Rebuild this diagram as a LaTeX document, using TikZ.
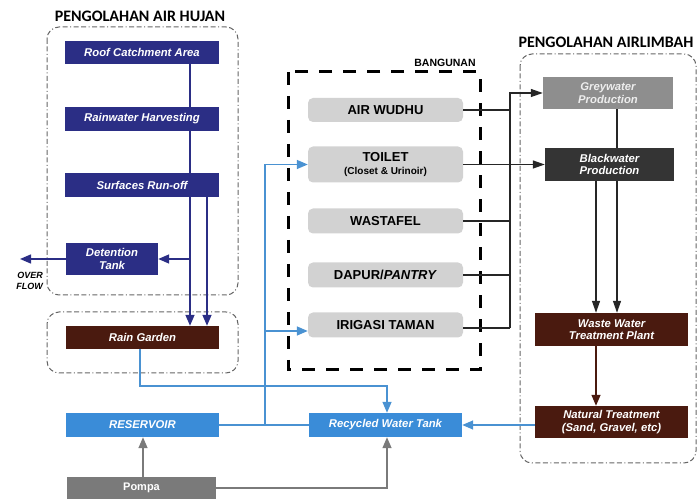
\documentclass[tikz,border=0pt]{standalone}
\usepackage{fontspec}
\setmainfont{Liberation Sans}
\newfontfamily\titlefont{Carlito}
\usetikzlibrary{arrows.meta}
\definecolor{navy}{HTML}{2B2E85}
\definecolor{brownbox}{HTML}{4A1A0F}
\definecolor{bluebox}{HTML}{3A8CD8}
\definecolor{blueline}{HTML}{4A92D2}
\definecolor{pompagrey}{HTML}{7A7A7A}
\definecolor{greyw}{HTML}{8E8E8E}
\definecolor{blackw}{HTML}{343434}
\definecolor{lightbox}{HTML}{D2D2D2}
\definecolor{groupline}{HTML}{666666}
\tikzset{
  cbox/.style={draw=none, inner sep=0pt, text=white, font=\bfseries\itshape\fontsize{11.3}{12.5}\selectfont, align=center},
  navybox/.style={cbox, fill=navy},
  brownb/.style={cbox, fill=brownbox},
  blueb/.style={cbox, fill=bluebox},
  gbox/.style={draw=none, fill=lightbox, rounded corners=5pt, minimum width=155pt, inner sep=0pt, font=\bfseries\fontsize{13}{14}\selectfont, align=center},
  grp/.style={draw=groupline, line width=1pt, rounded corners=12pt, dash pattern=on 5pt off 2.5pt on 5pt off 2.5pt on 1pt off 2.5pt},
  navyln/.style={draw=navy, line width=1.5pt},
  navyarr/.style={navyln, -{Triangle[length=11pt,width=9pt]}},
  blkln/.style={draw=black!85, line width=1.3pt},
  blkarr/.style={blkln, -{Triangle[length=12pt,width=8pt]}},
  blueln/.style={draw=blueline, line width=1.4pt},
  bluearr/.style={blueln, -{Triangle[length=11pt,width=9pt]}},
  greyarr/.style={draw=pompagrey, line width=1.4pt, -{Triangle[length=11pt,width=9pt]}},
  brownarr/.style={draw=brownbox, line width=1.4pt, -{Triangle[length=11pt,width=9pt]}},
  ttl/.style={font=\titlefont\bfseries\fontsize{16}{17}\selectfont, inner sep=0pt}
}
\begin{document}
\begin{tikzpicture}[x=1pt,y=-1pt]
\useasboundingbox (0,0) rectangle (699,502);
% group boxes
\node[ttl] (t1) at (140,16) {PENGOLAHAN AIR HUJAN};
\draw[grp] (47,27) rectangle (238,295);
\draw[grp] (47,312) rectangle (238,373);
\node[ttl] (t2) at (606,42) {PENGOLAHAN AIRLIMBAH};
\draw[grp] (520,54) rectangle (696,463);
\draw[line width=3pt, dash pattern=on 13pt off 11pt] (288,72) rectangle (480,370);
\node[font=\bfseries\fontsize{10.5}{11}\selectfont, inner sep=0pt] (bang) at (445,63) {BANGUNAN};
% left column
\node[navybox, minimum width=154pt, minimum height=23pt] (roof) at (142,52.5) {Roof Catchment Area};
\node[navybox, minimum width=154pt, minimum height=24pt] (rwh) at (142,119) {Rainwater Harvesting};
\node[navybox, minimum width=154pt, minimum height=24pt] (srf) at (142,185) {Surfaces Run-off};
\node[navybox, minimum width=92pt, minimum height=32pt] (det) at (112,259) {Detention\\Tank};
\node[brownb, minimum width=153pt, minimum height=23pt] (rg) at (142.5,337.5) {Rain Garden};
\node[blueb, minimum width=153pt, minimum height=24pt] (res) at (142.5,425) {RESERVOIR};
\node[cbox, fill=pompagrey, font=\bfseries\fontsize{11}{12}\selectfont, minimum width=149pt, minimum height=22pt] (pompa) at (141.5,488) {Pompa};
\node[blueb, minimum width=153pt, minimum height=24pt] (rwt) at (385.5,425) {Recycled Water Tank};
% right column
\node[brownb, minimum width=153pt, minimum height=32pt] (nat) at (611.5,422) {Natural Treatment\\(Sand, Gravel, etc)};
\node[brownb, minimum width=153pt, minimum height=33pt] (wwtp) at (611.5,329.5) {Waste Water\\Treatment Plant};
\node[cbox, fill=greyw, text=white!93!black, minimum width=130pt, minimum height=32pt] (grey) at (608,93) {Greywater\\Production};
\node[cbox, fill=blackw, minimum width=129pt, minimum height=33pt] (black) at (609.5,164.5) {Blackwater\\Production};
% building
\node[gbox, minimum height=24pt] (wudhu) at (385.5,110) {AIR WUDHU};
\node[gbox, minimum height=36pt] (toilet) at (385.5,164.5) {TOILET\\[-1pt]{\fontsize{10}{11}\selectfont (Closet \& Urinoir)}};
\node[gbox, minimum height=25pt] (wast) at (385.5,221) {WASTAFEL};
\node[gbox, minimum height=25pt] (dapur) at (385.5,275) {DAPUR/\textit{PANTRY}};
\node[gbox, minimum height=25pt] (irig) at (385.5,325) {IRIGASI TAMAN};
% coordinates
\coordinate (xa) at (190,0);
\coordinate (xb) at (207,0);
\coordinate (xg) at (140,0);
\coordinate (xr) at (387,0);
\coordinate (xv) at (265,0);
\coordinate (xbus) at (510,0);
\coordinate (xw1) at (596,0);
\coordinate (xw2) at (617,0);
\coordinate (xp) at (143,0);
\coordinate (ydet) at (0,259);
\coordinate (yrg) at (0,386);
\coordinate (yirig) at (0,331);
\coordinate (ybus) at (0,328);
\coordinate (over) at (20,259);
\node[font=\bfseries\itshape\fontsize{9}{11.5}\selectfont, align=right, inner sep=0pt, anchor=east] (ovl) at (43,281) {OVER\\FLOW};
% rain connectors
\draw[navyln] (roof.south -| xa) -- (rwh.north -| xa);
\draw[navyln] (rwh.south -| xa) -- (srf.north -| xa);
\draw[navyarr] (srf.south -| xa) -- (rg.north -| xa);
\draw[navyarr] (srf.south -| xb) -- (rg.north -| xb);
\draw[navyarr] (xa |- ydet) -- (det.east);
\draw[navyarr] (det.west) -- (over);
% blue
\draw[bluearr] (rg.south -| xg) -- (xg |- yrg) -- (xr |- yrg) -- (rwt.north -| xr);
\draw[blueln] (res.east) -- (rwt.west);
\draw[bluearr] (xv |- res.east) -- (xv |- toilet.west) -- (toilet.west);
\draw[bluearr] (xv |- yirig) -- (irig.west |- yirig);
\draw[bluearr] (nat.west |- rwt.east) -- (rwt.east);
% grey
\draw[greyarr] (pompa.north -| xp) -- (res.south -| xp);
\draw[greyarr] (pompa.east) -- (xr |- pompa.east) -- (rwt.south -| xr);
% waste
\draw[blkln] (wudhu.east) -- (xbus |- wudhu.east);
\draw[blkln] (wast.east) -- (xbus |- wast.east);
\draw[blkln] (dapur.east) -- (xbus |- dapur.east);
\draw[blkln] (irig.east |- ybus) -- (xbus |- ybus);
\draw[blkarr] (xbus |- ybus) -- (xbus |- grey.west) -- (grey.west);
\draw[blkarr] (toilet.east) -- (black.west |- toilet.east);
\draw[blkln] (grey.south -| xw2) -- (black.north -| xw2);
\draw[blkarr] (black.south -| xw1) -- (wwtp.north -| xw1);
\draw[blkarr] (black.south -| xw2) -- (wwtp.north -| xw2);
\draw[brownarr] (wwtp.south -| xw1) -- (nat.north -| xw1);
\end{tikzpicture}
\end{document}
